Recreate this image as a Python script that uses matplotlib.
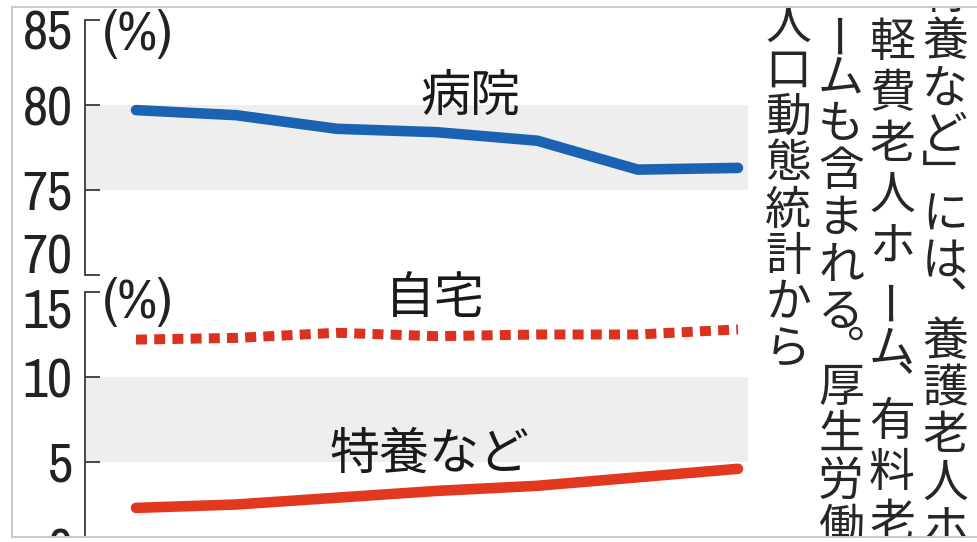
import matplotlib
matplotlib.use("Agg")
import matplotlib.pyplot as plt
from matplotlib import font_manager
from matplotlib.font_manager import FontProperties
from matplotlib.patches import Rectangle
from matplotlib.lines import Line2D
from matplotlib.transforms import ScaledTranslation

# ---------------- data ----------------
years = [2006, 2007, 2008, 2009, 2010, 2011, 2012]
hospital = [79.7, 79.4, 78.6, 78.4, 77.9, 76.2, 76.3]   # 病院
home = [12.2, 12.3, 12.6, 12.4, 12.5, 12.5, 12.8]       # 自宅
nursing = [2.3, 2.5, 2.9, 3.3, 3.6, 4.1, 4.6]           # 特養など
top_ticks = [70, 75, 80, 85]
bottom_ticks = [0, 5, 10, 15]
label_hospital = "病院"
label_home = "自宅"
label_nursing = "特養など"
unit_label = "(%)"
note_columns = [
    "「特養など」には、養護老人ホ",
    "、軽費老人ホーム、有料老",
    "ームも含まれる。厚生労働",
    "人口動態統計から",
]

# ---------------- fonts ----------------
def pick_num_font():
    prefs = ["LiberationSansNarrow-Regular", "Narrow-Regular",
             "RobotoCondensed-Regular", "NotoSans-Condensed.",
             "NotoSans-Condensed-", "SemiCondensed-Regular",
             "DejaVuSansCondensed."]
    files = [f.fname for f in font_manager.fontManager.ttflist]
    for key in prefs:
        for fn in files:
            base = fn.split("/")[-1]
            if key in base and "Bold" not in base and "Italic" not in base \
                    and "Oblique" not in base:
                return fn
    return None

NUM_FILE = pick_num_font()
NUM_SIZE = 43 if NUM_FILE else 36

def num_fp():
    if NUM_FILE:
        return FontProperties(fname=NUM_FILE, size=NUM_SIZE)
    return FontProperties(family=["Liberation Sans", "DejaVu Sans"],
                          size=NUM_SIZE)

CJK_FONT = ["Noto Sans CJK JP", "DejaVu Sans"]

# ---------------- layout helpers ----------------
W, H = 977, 542
DPI = 100
fig = plt.figure(figsize=(W / DPI, H / DPI), dpi=DPI)
fig.patch.set_facecolor("white")

def fx(px):
    return px / W

def fy(py):
    return 1 - py / H

BLUE = "#1b63b2"
RED = "#e2381f"
RED_DOT = "#da321e"
BAND = "#eeeeee"
AXC = "#3a3a3a"

spine_px, right_px = 85, 748
x0_px, x6_px = 136, 738
step = (x6_px - x0_px) / (len(years) - 1)
xlim = (-(x0_px - spine_px) / step, len(years) - 1 + (right_px - x6_px) / step)
xs = list(range(len(years)))

def make_axes(top_px, bot_px, ylim, ticks):
    ax = fig.add_axes([fx(spine_px), fy(bot_px), fx(right_px) - fx(spine_px),
                       fy(top_px) - fy(bot_px)])
    ax.set_xlim(*xlim)
    ax.set_ylim(*ylim)
    ax.patch.set_alpha(0)
    for s in ["top", "right", "bottom"]:
        ax.spines[s].set_visible(False)
    ax.spines["left"].set_color(AXC)
    ax.spines["left"].set_linewidth(1.3)
    ax.set_xticks([])
    ax.set_yticks(ticks)
    ax.set_yticklabels([str(t) for t in ticks], fontproperties=num_fp())
    ax.tick_params(axis="y", direction="in", length=11, width=1.3, color=AXC,
                   pad=9.0, labelcolor="#222222")
    return ax

ax1 = make_axes(20, 275, (70, 85), top_ticks)
ax2 = make_axes(292, 547, (0, 15), bottom_ticks)

def shift_label(ax, idx, dy_px):
    lab = ax.get_yticklabels()[idx]
    lab.set_transform(lab.get_transform() +
                      ScaledTranslation(0, -dy_px / DPI, fig.dpi_scale_trans))

shift_label(ax1, 3, 10)    # 85 down
shift_label(ax1, 0, -21)   # 70 up
shift_label(ax2, 3, 15)    # 15 down

# bands
ax1.axhspan(75, 80, color=BAND, zorder=0, lw=0)
ax2.axhspan(5, 10, color=BAND, zorder=0, lw=0)

# lines
ax1.plot(xs, hospital, color=BLUE, lw=7.6, solid_capstyle="round",
         solid_joinstyle="round", clip_on=False, zorder=3)
ax2.plot(xs, home, color=RED_DOT, lw=7.2, linestyle=(0, (1.1, 0.72)),
         dash_capstyle="butt", clip_on=False, zorder=3)
ax2.plot(xs, nursing, color=RED, lw=7.6, solid_capstyle="round",
         solid_joinstyle="round", clip_on=False, zorder=3)

# series labels
fig.text(fx(470), fy(97), label_hospital, family=CJK_FONT, fontsize=36,
         ha="center", va="center", color="#1a1a1a")
fig.text(fx(435), fy(299), label_home, family=CJK_FONT, fontsize=36,
         ha="center", va="center", color="#1a1a1a")
fig.text(fx(430), fy(455), label_nursing, family=CJK_FONT, fontsize=36,
         ha="center", va="center", color="#1a1a1a")

# unit labels
for cy in (35, 303):
    fig.text(fx(138), fy(cy), unit_label, fontproperties=num_fp(),
             ha="center", va="center", color="#222222")

# vertical note text
vert_map = {"「": "\ufe41", "」": "\ufe42", "、": "\ufe11", "。": "\ufe12"}
PUNCT = set("「」、。")
col_specs = [  # (x center px, full advance, punctuation advance)
    (945, 47, 32.5),
    (892, 51, 22),
    (841, 47, 28),
    (788, 46.4, 46.4),
]
anchors = [(2, 42), (1, 43), (1, 78), (0, 25)]  # (char index, its y center)

for (cx, F, P), (ai, ay), text in zip(col_specs, anchors, note_columns):
    widths = [P if c in PUNCT else F for c in text]
    centers = [0.0]
    for i in range(1, len(text)):
        centers.append(centers[-1] + (widths[i - 1] + widths[i]) / 2)
    off = ay - centers[ai]
    for c, yc in zip(text, centers):
        y = yc + off
        if y < -40 or y > 580:
            continue
        rot = 90 if c == "ー" else 0
        ch = vert_map.get(c, c)
        fig.text(fx(cx), fy(y), ch, family=CJK_FONT, fontsize=33, ha="center",
                 va="center", rotation=rot, rotation_mode="anchor",
                 color="#262626")

# outer crop frame: white margins + light gray border
FR_L, FR_T, FR_B = 12, 7, 537
for (x, y, w, h) in [(0, 0, 1, fy(FR_B)),
                     (0, fy(FR_T), 1, 1 - fy(FR_T)),
                     (0, 0, fx(FR_L), 1)]:
    fig.add_artist(Rectangle((x, y), w, h, transform=fig.transFigure,
                             facecolor="white", edgecolor="none", zorder=20))
fr = "#c9c9c9"
fig.add_artist(Line2D([fx(FR_L), 1], [fy(FR_T), fy(FR_T)], color=fr, lw=1.4,
                      transform=fig.transFigure, zorder=21))
fig.add_artist(Line2D([fx(FR_L), 1], [fy(FR_B), fy(FR_B)], color=fr, lw=1.4,
                      transform=fig.transFigure, zorder=21))
fig.add_artist(Line2D([fx(FR_L), fx(FR_L)], [fy(FR_T), fy(FR_B)], color=fr,
                      lw=1.4, transform=fig.transFigure, zorder=21))

fig.savefig("out.png", dpi=DPI, facecolor="white")
